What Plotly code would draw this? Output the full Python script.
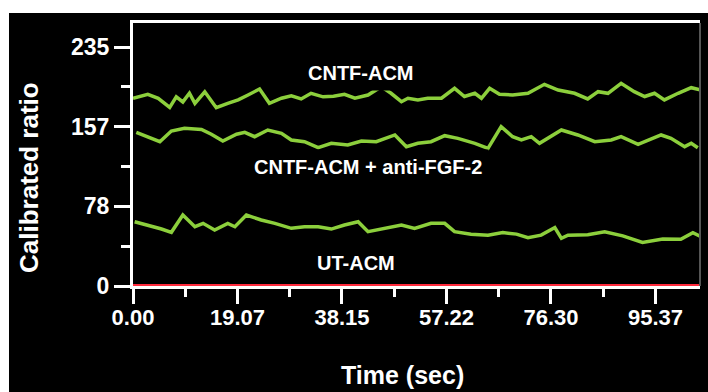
import plotly.graph_objects as go

# ---- data ----
t_cntf = [0, 2.7, 4.6, 6.7, 7.9, 9.1, 10.3, 11.3, 13.1, 15.2,
          17.3, 19.2, 21.0, 23.1, 24.9, 27.1, 28.9, 30.7, 32.5, 34.7,
          36.6, 38.6, 40.5, 42.9, 45.3, 47.1, 49.0, 50.2, 52.0, 53.8,
          56.3, 58.7, 60.5, 62.4, 63.6, 65.1, 66.9, 69.3, 72.1, 75.1,
          77.6, 80.6, 83.0, 84.9, 86.7, 89.1, 91.5, 93.4, 95.2, 97.0,
          99.5, 101.9, 103.5]
v_cntf = [184.6, 188.5, 184.6, 175.7, 186, 181, 189.5, 179.6, 191, 175.3,
          179.6, 183, 187.8, 193.7, 179.6, 184.6, 187, 183.9, 189.5, 186,
          186.5, 188.5, 184.6, 187.8, 196, 189.5, 181.2, 184.6, 183, 184.6,
          184.6, 194.4, 186.3, 189.5, 184.6, 194.4, 188.5, 187.8, 189.5, 198.3,
          192.7, 189.5, 183.9, 191.1, 189.5, 199.3, 191.1, 186.3, 189.5, 183,
          189.5, 195, 193]

t_anti = [0.6, 2.7, 4.9, 7.0, 9.4, 12.5, 14.3, 16.4, 18.9, 20.4,
          22.2, 24.6, 27.1, 28.9, 31.3, 33.8, 36.2, 39.2, 41.7, 44.4,
          47.8, 49.9, 52.0, 54.4, 56.9, 59.3, 62.4, 64.8, 67.2, 69.3,
          70.9, 72.7, 74.2, 78.2, 81.2, 84.3, 87.3, 89.1, 92.2, 96.4,
          98.2, 100.7, 101.9, 103.1]
v_anti = [151.1, 146.8, 141.9, 152.4, 155, 154, 149.2, 142.6, 149.2, 151.1,
          146.8, 153.4, 150.1, 143.6, 141.9, 136, 140.3, 138.6, 142.6, 141.9,
          148.5, 137, 140.3, 141.9, 147.8, 145.2, 140.3, 135.4, 156.7, 146.8,
          143.6, 146.8, 140.3, 153.4, 148.5, 141.9, 143.6, 146.8, 139.3, 148.5,
          145.2, 137, 140.3, 136]

t_ut = [0.3, 2.7, 5.2, 7.0, 9.1, 11.3, 12.8, 14.9, 17.3, 18.6,
        20.7, 23.4, 25.9, 28.9, 31.3, 33.8, 36.2, 38.6, 41.1, 42.9,
        45.9, 49.0, 51.4, 54.4, 56.9, 58.7, 61.7, 64.8, 67.5, 70.0,
        72.1, 74.5, 77.0, 78.2, 79.4, 83.0, 86.1, 89.4, 93.0, 96.7,
        100.0, 102.2, 103.5]
v_ut = [63.2, 60, 56, 52.8, 69.8, 58.3, 61.6, 55.1, 61.6, 58.3,
        69.8, 64.9, 61.6, 56.7, 58.3, 58.3, 56, 60, 63.2, 53.4,
        56.7, 60, 56.7, 61.6, 61.6, 53.4, 50.8, 50, 52.5, 51,
        47.5, 50, 57.5, 46.9, 50, 50.5, 53.4, 49.3, 42.8, 46.3,
        46, 52.5, 49]

t_base = [0, 103.5]
v_base = [0, 0]

x_tickvals = [0, 19.074, 38.148, 57.222, 76.296, 95.37]
x_ticktext = ["0.00", "19.07", "38.15", "57.22", "76.30", "95.37"]
x_minor = [9.537, 28.611, 47.685, 66.759, 85.833]
y_tickvals = [0, 78.33, 156.67, 235]
y_ticktext = ["0", "78", "157", "235"]
y_minor = [39.17, 117.5, 195.83]

labels = ["CNTF-ACM", "CNTF-ACM + anti-FGF-2", "UT-ACM"]

# ---- figure ----
FONT = "Liberation Sans, Arial, sans-serif"
GREEN = "#8ccf3c"

fig = go.Figure()
for tx, vy in [(t_cntf, v_cntf), (t_anti, v_anti), (t_ut, v_ut)]:
    fig.add_trace(go.Scatter(x=tx, y=vy, mode="lines",
                             line=dict(color=GREEN, width=3.5), showlegend=False))
fig.add_trace(go.Scatter(x=t_base, y=v_base, mode="lines",
                         line=dict(color="#ff2a3c", width=4), showlegend=False))

fig.update_xaxes(range=[0, 103.5], tickmode="array", tickvals=x_tickvals,
                 ticktext=x_ticktext, ticks="outside", ticklen=15, tickwidth=3,
                 tickcolor="white", showline=True, linecolor="white", linewidth=3,
                 mirror=True, showgrid=False, zeroline=False,
                 tickfont=dict(family=FONT, size=22, color="white", weight="bold"),
                 ticklabelstandoff=-5,
                 layer="below traces",
                 minor=dict(tickvals=x_minor, ticks="outside", ticklen=8,
                            tickwidth=3, tickcolor="white", showgrid=False))
fig.update_yaxes(range=[0, 258.6], tickmode="array", tickvals=y_tickvals,
                 ticktext=y_ticktext, ticks="outside", ticklen=16, tickwidth=3,
                 tickcolor="white", showline=True, linecolor="white", linewidth=3,
                 showgrid=False, zeroline=False,
                 tickfont=dict(family=FONT, size=23, color="white", weight="bold"),
                 minor=dict(tickvals=y_minor, ticks="outside", ticklen=9,
                            tickwidth=3, tickcolor="white", showgrid=False))

# black panel behind everything (white strip at top and left of the image)
fig.add_shape(type="rect", xref="paper", yref="paper", x0=-0.2187, x1=1.02,
              y0=-0.41, y1=1.038, fillcolor="black", line=dict(width=0),
              layer="below")
fig.add_shape(type="line", xref="paper", yref="paper", x0=1, x1=1, y0=0, y1=1,
              line=dict(color="#555555", width=2))

ann_font = dict(family=FONT, size=20, color="white", weight="bold")
fig.add_annotation(x=41.6, y=209.9, text=labels[0], showarrow=False,
                   font=ann_font, bgcolor="black", borderpad=6)
fig.add_annotation(x=42.9, y=117.5, text=labels[1], showarrow=False,
                   font=ann_font, bgcolor="black", borderpad=6)
fig.add_annotation(x=40.7, y=23.1, text=labels[2], showarrow=False,
                   font=ann_font, bgcolor="black", borderpad=6)

# axis titles
fig.add_annotation(xref="paper", yref="paper", x=(402 - 133) / 567,
                   y=(286 - 375) / 263, xanchor="center", yanchor="middle",
                   text="Time (sec)", showarrow=False,
                   font=dict(family=FONT, size=25, color="white", weight="bold"))
fig.add_annotation(xref="paper", yref="paper", x=(29 - 133) / 567,
                   y=(286 - 178) / 263, xanchor="center", yanchor="middle",
                   text="Calibrated ratio", textangle=-90, showarrow=False,
                   font=dict(family=FONT, size=26, color="white", weight="bold"))

fig.update_layout(width=708, height=392,
                  margin=dict(l=133, r=8, t=23, b=106),
                  paper_bgcolor="white", plot_bgcolor="#07070a",
                  showlegend=False)

fig.write_html("out.html", config={"displayModeBar": False},
               post_script="document.body.style.margin='0';"
                           "document.body.style.overflow='hidden';")
